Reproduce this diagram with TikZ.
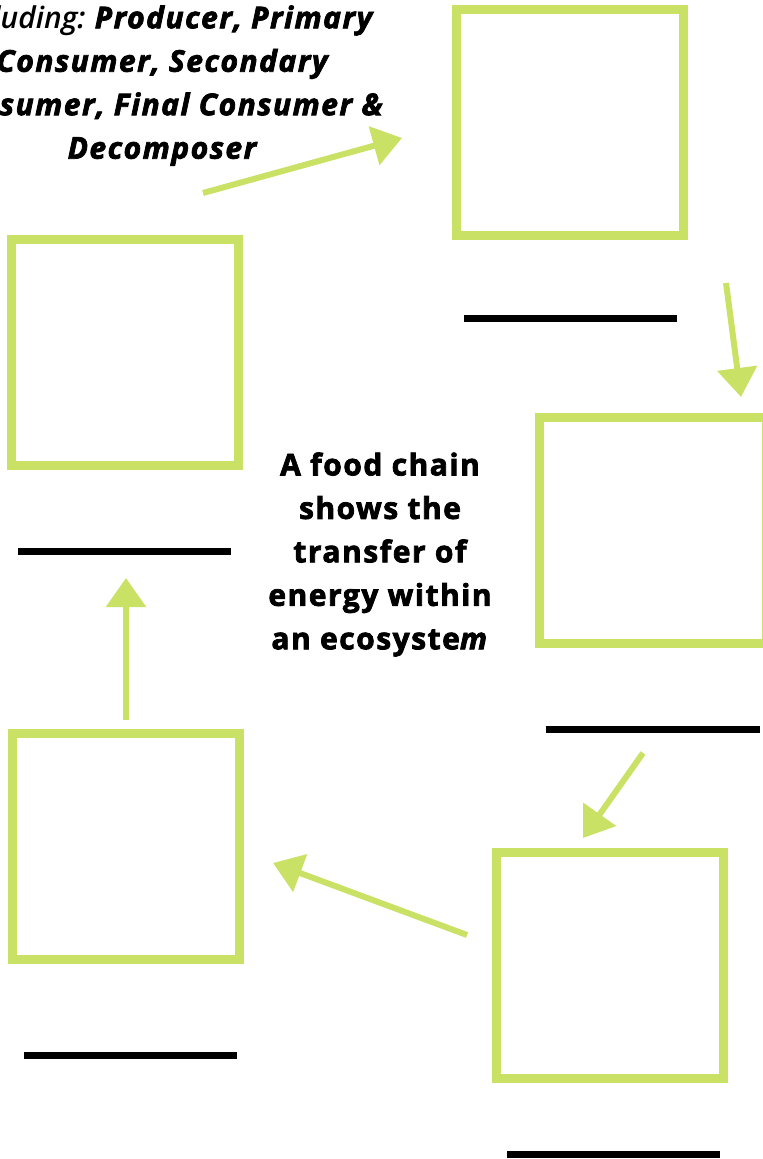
\documentclass[tikz,border=0pt]{standalone}
\usepackage{fontspec}
\setmainfont{Open Sans}
\newfontfamily\lightit{Open Sans Light Italic}
\newfontfamily\heavy{Open Sans}[BoldFeatures={FakeBold=2.5,LetterSpace=5}, BoldItalicFeatures={FakeBold=2.5,LetterSpace=5}]
\usetikzlibrary{arrows.meta}
\definecolor{leaf}{RGB}{201,225,100}
\tikzset{
trophic/.style={draw=leaf, line width=6.75pt, minimum width=170.25pt, minimum height=169.5pt, inner sep=0pt}, % empty box for one level
blank/.style={fill=black, minimum width=160pt, minimum height=5.25pt, inner sep=0pt}, % line to write the name on
flow/.style={draw=leaf, line width=4.5pt, -{Triangle[length=21.75pt,width=29.25pt]}}, % energy arrow
words/.style={font=\heavy\bfseries\fontsize{22.5}{32.6}\selectfont, align=center, inner sep=0pt, anchor=north},
}

\begin{document}
\begin{tikzpicture}[x=0.75pt, y=-0.75pt]
\useasboundingbox (0,0) rectangle (763,1159);
\clip (0,0) rectangle (763,1159);
% boxes
\node[trophic] (box1) at (570,122.5) {};
\node[trophic] (box2) at (124.5,352) {};
\node[trophic] (box3) at (652.5,530.8) {};
\node[trophic] (box4) at (125.7,846.8) {};
\node[trophic] (box5) at (609.5,965.2) {};
% lines for the names
\node[blank] (line1) at (570.5,318) {};
\node[blank] (line2) at (124.5,551) {};
\node[blank] (line3) at (653,729) {};
\node[blank] (line4) at (130.3,1055) {};
\node[blank] (line5) at (613.5,1154.7) {};
% texts
\node[words] (key) at (162,5.2) {{\lightit Including:}\itshape\ Producer, Primary\\ \itshape Consumer, Secondary\\ \itshape Consumer, Final Consumer \&\\ \itshape Decomposer};
\node[words] (title) at (380,452.2) {A food chain\\ shows the\\ transfer of\\ energy within\\ an ecosyste\textit{m}};
% arrows
\coordinate (a1s) at (203,193); \coordinate (a1e) at (402,138);
\coordinate (a2s) at (726,283); \coordinate (a2e) at (741,397);
\coordinate (a3s) at (643,753); \coordinate (a3e) at (583,838);
\coordinate (a4s) at (467,935); \coordinate (a4e) at (273,863);
\coordinate (a5s) at (126,720); \coordinate (a5e) at (126,578);
\draw[flow] (a1s) -- (a1e);
\draw[flow] (a2s) -- (a2e);
\draw[flow] (a3s) -- (a3e);
\draw[flow] (a4s) -- (a4e);
\draw[flow] (a5s) -- (a5e);
\end{tikzpicture}
\end{document}
